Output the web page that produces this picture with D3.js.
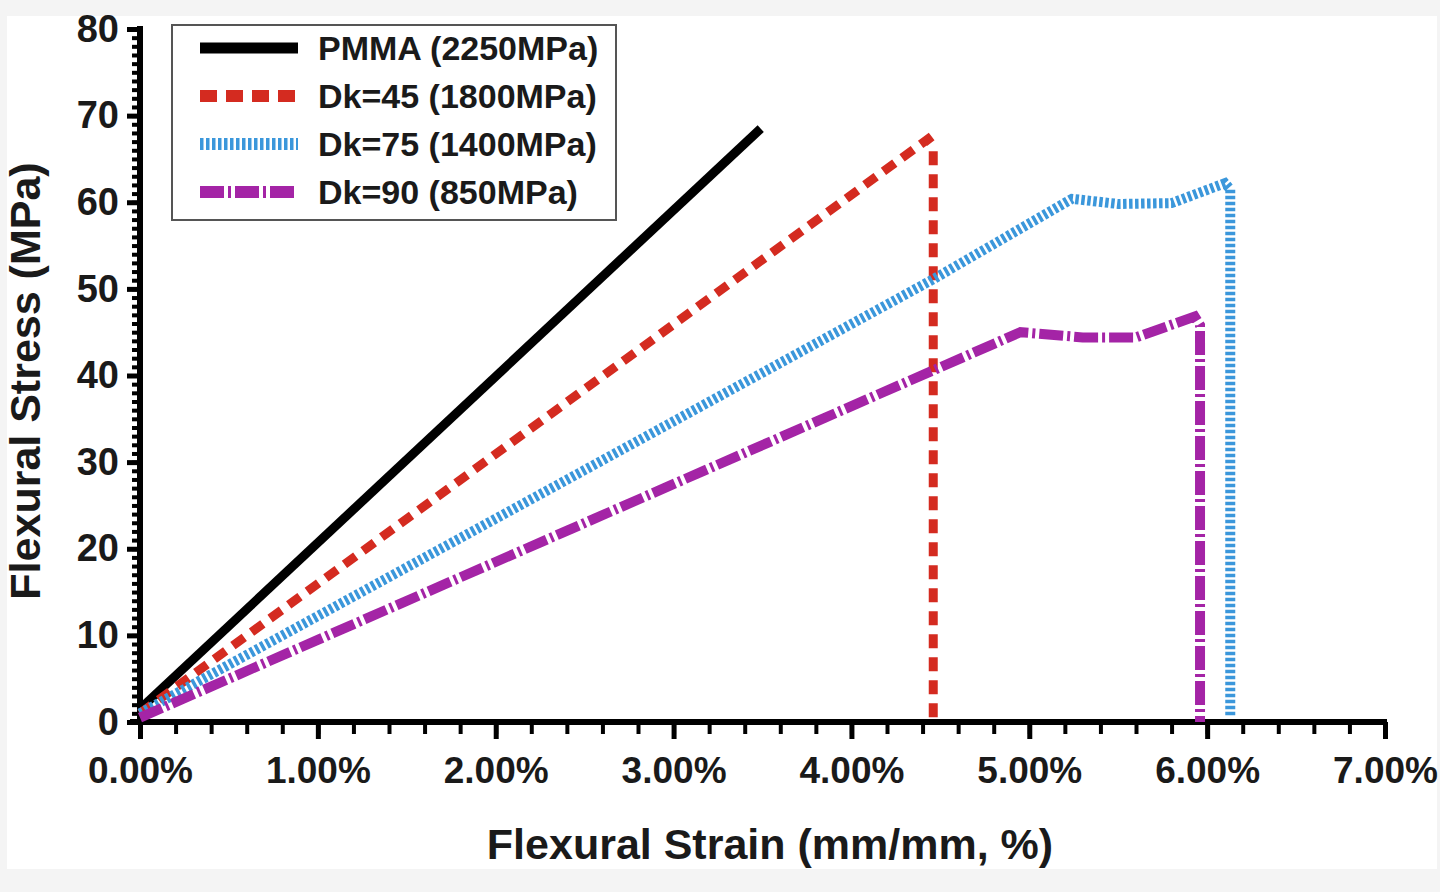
<!DOCTYPE html>
<html>
<head>
<meta charset="utf-8">
<script src="https://cdn.jsdelivr.net/npm/d3@7"></script>
<style>
    body { margin: 0; background: #f4f4f4; }
    #chart { width: 1440px; height: 892px; }
    text { font-family: "Liberation Sans", Arial, sans-serif; font-weight: bold; fill: #1a1a1a; }
    .axis path, .axis line { stroke: #000; }
</style>
</head>
<body>
<div id="chart"></div>
<script>
// Series (strain in %, stress in MPa)
const seriesNames = ["PMMA (2250MPa)", "Dk=45 (1800MPa)", "Dk=75 (1400MPa)", "Dk=90 (850MPa)"];
const seriesColours = ["#000000", "#d42b20", "#3b97db", "#a424a6"];

const strainPMMA = [0, 3.49];
const stressPMMA = [1.5, 68.5];

const strainDk45 = [0, 4.43, 4.46, 4.46];
const stressDk45 = [1, 67.3, 66.5, 0];

const strainDk75 = [0, 4.45, 5.24, 5.5, 5.8, 6.1, 6.13, 6.13];
const stressDk75 = [1, 51, 60.4, 59.8, 59.9, 62.2, 61.5, 0.5];

const strainDk90 = [0, 4.95, 5.3, 5.6, 5.93, 5.96, 5.96];
const stressDk90 = [0.5, 45, 44.4, 44.4, 46.8, 45.8, 0];

const yTicks = [0, 10, 20, 30, 40, 50, 60, 70, 80];
const xTicks = [0, 1, 2, 3, 4, 5, 6, 7];

const strains = [strainPMMA, strainDk45, strainDk75, strainDk90];
const stresses = [stressPMMA, stressDk45, stressDk75, stressDk90];
const dashes = [null, "14,9", "3.5,2.5", "24,4,3,4"];
const widths = [9, 9, 10, 10];

const svg = d3.select("#chart").append("svg")
    .attr("width", 1440)
    .attr("height", 892);

// white panel inside light grey frame
svg.append("rect")
    .attr("x", 7).attr("y", 16)
    .attr("width", 1430).attr("height", 853)
    .attr("fill", "#fff");

const x = d3.scaleLinear().domain([0, 7]).range([140, 1385]);
const y = d3.scaleLinear().domain([0, 80]).range([722, 29]);

// minor ticks
const xMinor = d3.axisBottom(x).tickValues(d3.range(0, 7.01, 0.2)).tickSize(12).tickFormat("");
const yMinor = d3.axisLeft(y).tickValues(d3.range(0, 80.1, 1)).tickSize(8).tickFormat("");

svg.append("g").attr("class", "axis")
    .attr("transform", `translate(0, ${y(0)})`)
    .call(xMinor)
    .call(g => g.select(".domain").remove())
    .selectAll("line").attr("stroke-width", 4);

svg.append("g").attr("class", "axis")
    .attr("transform", `translate(${x(0)}, 0)`)
    .call(yMinor)
    .call(g => g.select(".domain").remove())
    .selectAll("line").attr("stroke-width", 4);

// major ticks + labels
const xAxis = d3.axisBottom(x).tickValues(xTicks).tickSize(17).tickPadding(18)
    .tickFormat(d => d3.format(".2f")(d) + "%");
const yAxis = d3.axisLeft(y).tickValues(yTicks).tickSize(13).tickPadding(8);

svg.append("g").attr("class", "axis x-axis")
    .attr("transform", `translate(0, ${y(0)})`)
    .call(xAxis)
    .call(g => g.select(".domain").attr("stroke-width", 6).attr("d", `M${x(0) - 10},0H${x(7) + 2}`))
    .call(g => g.selectAll("line").attr("stroke-width", 5))
    .call(g => g.selectAll("text").attr("font-size", 37).attr("fill", "#1a1a1a").style("font-family", "Liberation Sans, Arial, sans-serif"));

svg.append("g").attr("class", "axis y-axis")
    .attr("transform", `translate(${x(0)}, 0)`)
    .call(yAxis)
    .call(g => g.select(".domain").attr("stroke-width", 6).attr("d", `M0,${y(0) + 2}V${y(80) - 3}`))
    .call(g => g.selectAll("line").attr("stroke-width", 5))
    .call(g => g.selectAll("text").attr("font-size", 38).attr("fill", "#1a1a1a").style("font-family", "Liberation Sans, Arial, sans-serif"));

// axis titles
svg.append("text")
    .attr("x", 770).attr("y", 859)
    .attr("text-anchor", "middle")
    .attr("font-size", 43)
    .text("Flexural Strain (mm/mm, %)");

svg.append("text")
    .attr("transform", "rotate(-90)")
    .attr("x", -381).attr("y", 40)
    .attr("text-anchor", "middle")
    .attr("font-size", 43)
    .text("Flexural Stress (MPa)");

// lines
const line = d3.line().x(d => x(d[0])).y(d => y(d[1]));

strains.forEach((s, i) => {
    const pts = s.map((v, j) => [v, stresses[i][j]]);
    svg.append("path")
        .datum(pts)
        .attr("d", line)
        .attr("fill", "none")
        .attr("stroke", seriesColours[i])
        .attr("stroke-width", widths[i])
        .attr("stroke-dasharray", dashes[i]);
});

// legend
const legend = svg.append("g").attr("class", "legend");

legend.append("rect")
    .attr("x", 172).attr("y", 25)
    .attr("width", 444).attr("height", 195)
    .attr("fill", "#fff")
    .attr("stroke", "#555")
    .attr("stroke-width", 2);

const rowY = d3.scaleLinear().domain([0, 3]).range([48, 192]);

seriesNames.forEach((name, i) => {
    legend.append("line")
        .attr("x1", 200).attr("x2", 298)
        .attr("y1", rowY(i)).attr("y2", rowY(i))
        .attr("stroke", seriesColours[i])
        .attr("stroke-width", i === 0 ? 11 : 12)
        .attr("stroke-dasharray", i === 1 ? "17,9" : dashes[i]);

    legend.append("text")
        .attr("x", 318).attr("y", rowY(i) + 12)
        .attr("font-size", 34)
        .text(name);
});
</script>
</body>
</html>
